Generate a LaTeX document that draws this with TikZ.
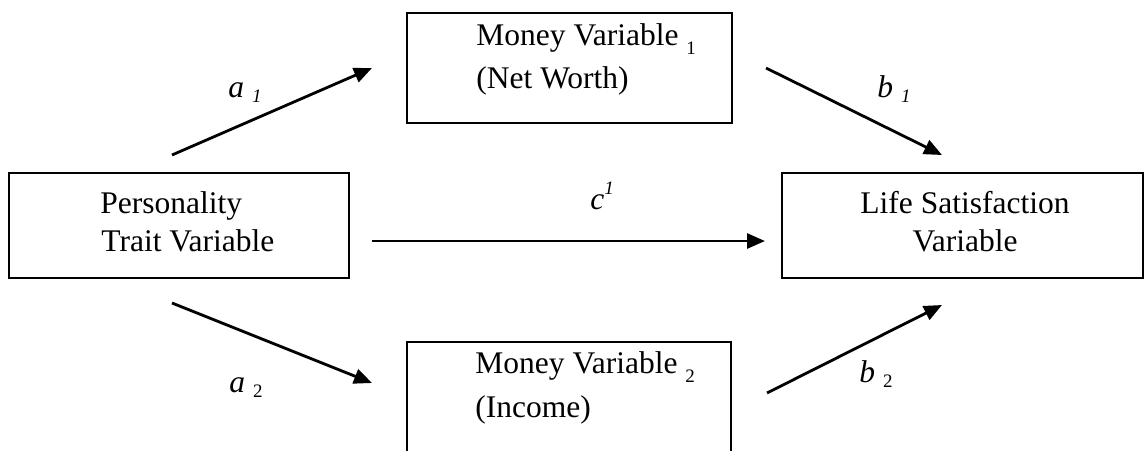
\documentclass[tikz,border=0pt]{standalone}
\usepackage{fontspec}
\setmainfont{Liberation Serif}
\usetikzlibrary{arrows.meta}

% small upright index set below the baseline, as in "Money Variable 1"
\newcommand{\lowidx}[1]{\raisebox{-4.5pt}{\fontsize{9.5}{10}\selectfont #1}}
% small index for the path coefficients
\newcommand{\coefidx}[1]{\raisebox{-2.5pt}{\fontsize{9.5}{10}\selectfont #1}}
\newcommand{\coefsup}[1]{\raisebox{7.5pt}{\fontsize{9.5}{10}\selectfont #1}}

\begin{document}
\begin{tikzpicture}[x=0.5pt, y=-0.5pt,
  box/.style={draw, line width=1.45pt, rectangle, inner sep=0pt},
  txt/.style={inner sep=0pt, font=\fontsize{15.75}{19}\selectfont},
  path arrow/.style={line width=1.4pt, -{Triangle[length=9pt,width=7.5pt]}}
]
\useasboundingbox (0,0) rectangle (1144,450);
\clip (0,0) rectangle (1144,450);

% boxes
\node[box, minimum width=170pt, minimum height=52.5pt] (pers) at (179,225.5) {};
\node[box, minimum width=162.5pt, minimum height=55pt] (money1) at (569.5,68) {};
\node[box, minimum width=180.5pt, minimum height=52.5pt] (life) at (962.5,225.5) {};
\node[box, minimum width=162pt, minimum height=64pt] (money2) at (569,406) {};

% box texts
\node[txt, anchor=base west] (persA) at (100,213) {Personality};
\node[txt, anchor=base west] (persB) at (101,251) {Trait Variable};
\node[txt, anchor=base west] (m1A) at (476,45) {Money Variable \lowidx{1}};
\node[txt, anchor=base west] (m1B) at (476,88) {(Net Worth)};
\node[txt, anchor=base] (lifeA) at (965,213) {Life Satisfaction};
\node[txt, anchor=base] (lifeB) at (965,251) {Variable};
\node[txt, anchor=base west] (m2A) at (475,373) {Money Variable \lowidx{2}};
\node[txt, anchor=base west] (m2B) at (475,417) {(Income)};

% arrow end points
\coordinate (a1s) at (172,155);
\coordinate (a1e) at (372,68);
\coordinate (a2s) at (172,303);
\coordinate (a2e) at (372,383);
\coordinate (cs) at (372,241);
\coordinate (ce) at (765,241);
\coordinate (b1s) at (766,68);
\coordinate (b1e) at (942,155);
\coordinate (b2s) at (767,393);
\coordinate (b2e) at (942,305);

\draw[path arrow] (a1s) -- (a1e);
\draw[path arrow] (a2s) -- (a2e);
\draw[path arrow] (cs) -- (ce);
\draw[path arrow] (b1s) -- (b1e);
\draw[path arrow] (b2s) -- (b2e);

% path coefficients
\node[txt, anchor=base west] (la1) at (228,97) {\textit{a \coefidx{1}}};
\node[txt, anchor=base west] (la2) at (229,392) {\textit{a} \coefidx{2}};
\node[txt, anchor=base west] (lc) at (590,209) {\textit{c\coefsup{1}}};
\node[txt, anchor=base west] (lb1) at (877,97) {\textit{b \coefidx{1}}};
\node[txt, anchor=base west] (lb2) at (859,382) {\textit{b} \coefidx{2}};
\end{tikzpicture}
\end{document}
